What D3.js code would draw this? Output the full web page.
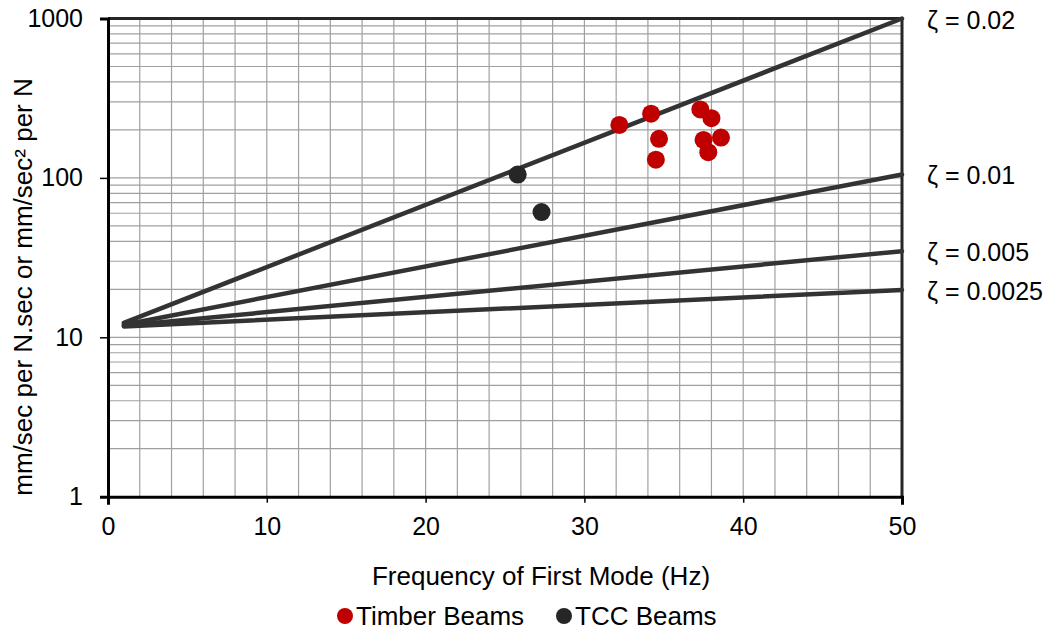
<!DOCTYPE html>
<html>
<head>
<meta charset="utf-8">
<script src="https://cdn.jsdelivr.net/npm/d3@7"></script>
<style>
  body { margin: 0; background: #fff; }
  text { font-family: "Liberation Sans", Arial, sans-serif; fill: #000; }
</style>
</head>
<body>
<svg id="chart" width="1056" height="633"></svg>
<script>
// Damping reference lines: value at f = 1 Hz and at f = 50 Hz
const dampingLabels = ["ζ = 0.02", "ζ = 0.01", "ζ = 0.005", "ζ = 0.0025"];
const lineFreq = [1, 50];
const lineStart = [12.3, 12.0, 11.8, 11.7];
const lineEnd = [1000, 105, 34.7, 19.8];

// Measured floors
const timberFreq = [32.2, 34.2, 34.7, 34.5, 37.3, 38.0, 37.5, 38.6, 37.8];
const timberResp = [215, 253, 176, 130, 269, 237, 173, 179, 145];
const tccFreq = [25.8, 27.3];
const tccResp = [105, 61];

const xTicks = [0, 10, 20, 30, 40, 50];
const yTicks = [1, 10, 100, 1000];
const seriesNames = ["Timber Beams", "TCC Beams"];
const seriesColors = ["#c00000", "#262626"];

const svg = d3.select("#chart");
const L = 108, R = 902, T = 18.5, B = 496.7;

const x = d3.scaleLinear().domain([0, 50]).range([L, R]);
const y = d3.scaleLog().domain([1, 1000]).range([B, T]);

// grid
const g = svg.append("g");
const xGrid = d3.range(2, 50, 2);
g.selectAll(".vg").data(xGrid).join("line")
  .attr("x1", d => x(d)).attr("x2", d => x(d))
  .attr("y1", T).attr("y2", B)
  .attr("stroke", "#a0a0a0").attr("stroke-width", 1.2);
const yGrid = [];
[1, 10, 100].forEach(dec => { for (let k = 2; k <= 10; k++) yGrid.push(dec * k); });
g.selectAll(".hg").data(yGrid).join("line")
  .attr("x1", L).attr("x2", R)
  .attr("y1", d => y(d)).attr("y2", d => y(d))
  .attr("stroke", "#a0a0a0").attr("stroke-width", 1.2);

// frame
svg.append("line").attr("x1", L).attr("x2", R).attr("y1", T).attr("y2", T)
  .attr("stroke", "#262626").attr("stroke-width", 3);
svg.append("line").attr("x1", R).attr("x2", R).attr("y1", T).attr("y2", B)
  .attr("stroke", "#262626").attr("stroke-width", 3);

// axes
const yAxis = svg.append("g").attr("transform", `translate(${L},0)`)
  .call(d3.axisLeft(y).tickValues(yTicks).tickFormat(d3.format("d")).tickSize(8).tickPadding(17));
const xAxis = svg.append("g").attr("transform", `translate(0,${B})`)
  .call(d3.axisBottom(x).tickValues(xTicks).tickSize(8).tickPadding(13));
[yAxis, xAxis].forEach(a => {
  a.select(".domain").attr("stroke", "#000").attr("stroke-width", 3);
  a.selectAll(".tick line").attr("stroke", "#000").attr("stroke-width", 1.5);
  a.selectAll(".tick text").style("font-size", "25px").style("font-family", "Liberation Sans, Arial, sans-serif").attr("fill", "#000");
});
xAxis.selectAll(".tick line").attr("y2", 6);

// damping lines
const line = d3.line().x(d => x(d[0])).y(d => y(d[1]));
dampingLabels.forEach((lab, i) => {
  const pts = [[lineFreq[0], lineStart[i]], [lineFreq[1], lineEnd[i]]];
  svg.append("path").attr("d", line(pts)).attr("fill", "none")
    .attr("stroke", "#333").attr("stroke-width", 4.5).attr("stroke-linecap", "round");
});
const labelY = [20, 175, 252, 291];
dampingLabels.forEach((lab, i) => {
  svg.append("text").attr("x", 927).attr("y", labelY[i]).attr("dy", "0.35em")
    .style("font-size", "25px").text(lab);
});

// points
svg.append("g").selectAll("circle").data(d3.zip(timberFreq, timberResp)).join("circle")
  .attr("cx", d => x(d[0])).attr("cy", d => y(d[1])).attr("r", 9)
  .attr("fill", seriesColors[0]);
svg.append("g").selectAll("circle").data(d3.zip(tccFreq, tccResp)).join("circle")
  .attr("cx", d => x(d[0])).attr("cy", d => y(d[1])).attr("r", 9)
  .attr("fill", seriesColors[1]);

// titles
svg.append("text").attr("x", 541).attr("y", 585).attr("text-anchor", "middle")
  .style("font-size", "26px").text("Frequency of First Mode (Hz)");
svg.append("text").attr("transform", `translate(32,287) rotate(-90)`)
  .attr("text-anchor", "middle").style("font-size", "26px")
  .text("mm/sec per N.sec or mm/sec² per N");

// legend
const legX = [345, 564];
seriesNames.forEach((n, i) => {
  svg.append("circle").attr("cx", legX[i]).attr("cy", 616).attr("r", 8).attr("fill", seriesColors[i]);
  svg.append("text").attr("x", legX[i] + 11).attr("y", 625)
    .style("font-size", "26px").text(n);
});
</script>
</body>
</html>
